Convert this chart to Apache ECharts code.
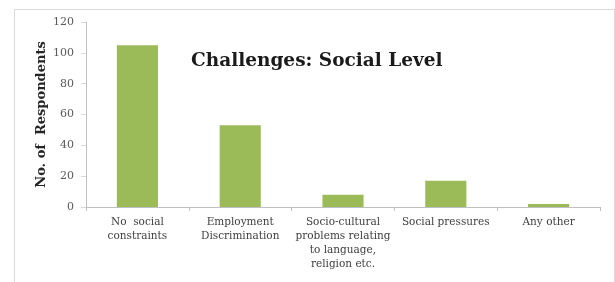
<!DOCTYPE html>
<html><head><meta charset="utf-8">
<script src="https://cdn.jsdelivr.net/npm/echarts@6/dist/echarts.min.js"></script>
<style>html,body{margin:0;padding:0;background:#fff}#c{width:615px;height:282px}</style>
</head><body><div id="c"></div>
<script>
const categories = ["No  social\nconstraints", "Employment\nDiscrimination", "Socio-cultural\nproblems relating\nto language,\nreligion etc.", "Social pressures", "Any other"];
const values = [105, 53, 8, 17, 2];
const yTicks = {min: 0, max: 120, interval: 20};
const titleText = "Challenges: Social Level";
const yName = "No. of  Respondents";

const serif = "DejaVu Serif";
const chart = echarts.init(document.getElementById('c'), null, {renderer: 'canvas'});
chart.setOption({
  animation: false,
  backgroundColor: '#fff',
  graphic: [{
    type: 'rect', left: 12, top: 7, shape: {width: 600, height: 290},
    style: {fill: 'none', stroke: '#d9d9d9', lineWidth: 1}
  }],
  title: {
    text: titleText, left: 186, top: 47,
    textStyle: {fontFamily: serif, fontSize: 18.5, fontWeight: 'bold', color: '#1a1a1a'}
  },
  grid: {left: 86, right: 15, top: 22, bottom: 75},
  xAxis: {
    type: 'category', data: categories,
    axisLine: {lineStyle: {color: '#bfbfbf'}},
    axisTick: {show: true, length: 4, lineStyle: {color: '#bfbfbf'}},
    axisLabel: {interval: 0, fontFamily: serif, fontSize: 10.5, color: '#404040', lineHeight: 14, margin: 8}
  },
  yAxis: {
    type: 'value', min: yTicks.min, max: yTicks.max, interval: yTicks.interval,
    name: yName, nameLocation: 'middle', nameGap: 38, nameMoveOverlap: false,
    nameTextStyle: {fontFamily: serif, fontSize: 13, fontWeight: 'bold', color: '#262626'},
    axisLine: {show: true, lineStyle: {color: '#bfbfbf'}},
    axisTick: {show: true, length: 5, lineStyle: {color: '#d9d9d9'}},
    splitLine: {show: false},
    axisLabel: {fontFamily: serif, fontSize: 11, color: '#595959', margin: 12}
  },
  series: [{
    type: 'bar', data: values, barWidth: '40%',
    itemStyle: {color: '#9bbb59'}
  }]
});
</script></body></html>
